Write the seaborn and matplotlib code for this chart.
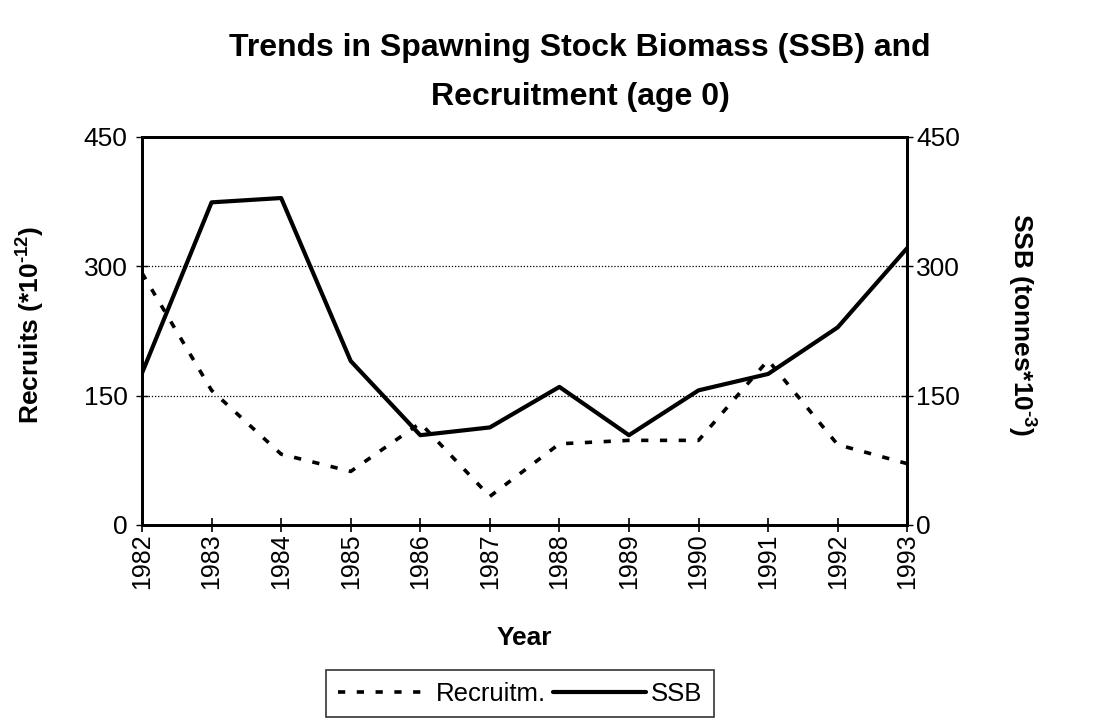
import seaborn as sns
import matplotlib.pyplot as plt
import pandas as pd

years = [1982, 1983, 1984, 1985, 1986, 1987, 1988, 1989, 1990, 1991, 1992, 1993]
recruits = [292, 156, 82, 62, 118, 33, 94, 98, 98, 191, 93, 71]
ssb = [176, 374, 379, 190, 104, 113, 160, 104, 156, 175, 229, 321]
yticks = [0, 150, 300, 450]

sns.set_style("white")
plt.rcParams['font.family'] = ['Liberation Sans', 'DejaVu Sans']
plt.rcParams['text.color'] = 'black'
plt.rcParams['mathtext.fontset'] = 'custom'
plt.rcParams['mathtext.rm'] = 'Liberation Sans:bold'
plt.rcParams['mathtext.bf'] = 'Liberation Sans:bold'

df = pd.DataFrame({"year": years, "Recruitm.": recruits, "SSB": ssb})

fig = plt.figure(figsize=(11.01, 7.2), dpi=100)
ax = fig.add_axes([0.129, 0.271, 0.695, 0.539])
ax2 = ax.twinx()

sns.lineplot(data=df, x="year", y="Recruitm.", ax=ax, color="black",
             linewidth=2.6, linestyle=(0, (2.0, 3.2)), label="Recruitm.", legend=False)
sns.lineplot(data=df, x="year", y="SSB", ax=ax2, color="black",
             linewidth=3, label="SSB", legend=False)

for a in (ax, ax2):
    a.set_xlim(1982, 1993)
    a.set_ylim(0, 450)
    a.set_yticks(yticks)
    a.set_xlabel("")
    a.set_ylabel("")
    for s in a.spines.values():
        s.set_color("black")
        s.set_linewidth(2)
    a.tick_params(axis="y", labelsize=19, length=9, width=1,
                  direction="inout", color="black", labelcolor="black")
ax.tick_params(axis="y", left=True, pad=6)
ax2.tick_params(axis="y", right=True, pad=2)

ax.set_xticks(years)
ax.set_xticklabels([str(y) for y in years], rotation=90)
ax.tick_params(axis="x", labelsize=18, length=10, width=1.2, pad=1, direction="inout",
               color="black", labelcolor="black", bottom=True)

for v in yticks[1:3]:
    ax.axhline(v, color="black", linestyle=(0, (1, 1.5)), linewidth=0.9, zorder=0)

fig.text(524 / 1101, 1 - 638 / 720, "Year", fontsize=19, fontweight="bold",
         ha="center", va="center")
fig.text(30 / 1101, 1 - 325 / 720, "Recruits (*10$^{\\text{-12}}$)", fontsize=19,
         fontweight="bold", rotation=90, ha="center", va="center")
fig.text(1022 / 1101, 1 - 325 / 720, "SSB (tonnes*10$^{\\text{-3}}$)", fontsize=19,
         fontweight="bold", rotation=270, ha="center", va="center")

fig.text(580 / 1101, 1 - 48 / 720, "Trends in Spawning Stock Biomass (SSB) and",
         fontsize=23, fontweight="bold", ha="center", va="center")
fig.text(580 / 1101, 1 - 97 / 720, "Recruitment (age 0)",
         fontsize=23, fontweight="bold", ha="center", va="center")

h1, l1 = ax.get_legend_handles_labels()
h2, l2 = ax2.get_legend_handles_labels()
leg = fig.legend(h1 + h2, l1 + l2, loc="lower center", bbox_to_anchor=(520 / 1101, 0.004),
                 ncol=2, fontsize=18.5, frameon=True, fancybox=False, handlelength=3.6,
                 handletextpad=0.2, columnspacing=0.3, borderpad=0.45, borderaxespad=0)
leg.get_frame().set_edgecolor("black")
leg.get_frame().set_linewidth(1.2)

plt.savefig("out.png", dpi=100)
